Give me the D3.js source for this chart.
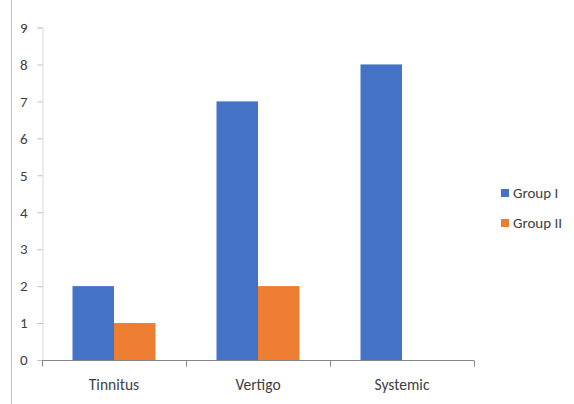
<!DOCTYPE html>
<html>
<head>
<meta charset="utf-8">
<script src="https://cdn.jsdelivr.net/npm/d3@7"></script>
<style>
  html, body { margin: 0; padding: 0; background: #fff; }
  text { font-family: Carlito, Lato, "Open Sans", sans-serif; fill: #404040; }
</style>
</head>
<body>
<svg id="chart" width="574" height="404"></svg>
<script>
// Symptom counts per group
const categories = ["Tinnitus", "Vertigo", "Systemic"];
const groups = ["Group I", "Group II"];
const groupI = [2, 7, 8];
const groupII = [1, 2, 0];
const yTicks = [0, 1, 2, 3, 4, 5, 6, 7, 8, 9];
const colors = ["#4472C4", "#ED7D31"];

const seriesValues = [groupI, groupII];
const rows = categories.map((c, i) => ({
  category: c,
  values: groups.map((g, j) => ({ group: g, value: seriesValues[j][i], color: colors[j] }))
}));

const svg = d3.select("#chart");

// Frame edge on the left
svg.append("line")
  .attr("x1", 11.5).attr("x2", 11.5)
  .attr("y1", 0).attr("y2", 404)
  .attr("stroke", "#bfbfbf").attr("stroke-width", 1);

const plot = { left: 42, right: 474, top: 27.5, bottom: 360 };

const x = d3.scaleBand().domain(categories).range([plot.left, plot.right]).padding(0);
const xInner = d3.scaleBand().domain(groups).range([0, x.bandwidth()])
  .paddingInner(0).paddingOuter(0.735);
const y = d3.scaleLinear().domain([0, 9]).range([plot.bottom, plot.top]);

// Y axis
const yAxis = svg.append("g")
  .attr("transform", `translate(${plot.left + 0.5},0)`)
  .call(d3.axisLeft(y).tickValues(yTicks).tickSize(5).tickPadding(10).tickFormat(d3.format("d")));
yAxis.select(".domain").attr("stroke", "#d9d9d9");
yAxis.selectAll(".tick line").attr("stroke", "#bfbfbf");
yAxis.selectAll(".tick text").attr("font-size", 15).attr("fill", "#404040")
  .attr("font-family", "Carlito, Lato, 'Open Sans', sans-serif");

// Bars
const groupsG = svg.append("g").selectAll("g")
  .data(rows).join("g")
  .attr("transform", d => `translate(${x(d.category)},0)`);
groupsG.selectAll("rect")
  .data(d => d.values.filter(v => v.value > 0))
  .join("rect")
  .attr("x", d => xInner(d.group))
  .attr("y", d => y(d.value))
  .attr("width", xInner.bandwidth())
  .attr("height", d => y(0) - y(d.value))
  .attr("fill", d => d.color);

// X axis
const xAxis = svg.append("g")
  .attr("transform", `translate(0,${plot.bottom + 0.5})`);
xAxis.append("line")
  .attr("x1", plot.left).attr("x2", plot.right)
  .attr("stroke", "#868686");
const boundaries = categories.map(c => x(c)).concat([x(categories[categories.length - 1]) + x.bandwidth()]);
xAxis.selectAll(".cat-tick")
  .data(boundaries).join("line")
  .attr("class", "cat-tick")
  .attr("x1", d => Math.round(d) + 0.5).attr("x2", d => Math.round(d) + 0.5)
  .attr("y1", 0).attr("y2", 6)
  .attr("stroke", "#868686");
xAxis.selectAll(".cat-label")
  .data(categories).join("text")
  .attr("class", "cat-label")
  .attr("x", d => x(d) + x.bandwidth() / 2)
  .attr("y", 29)
  .attr("text-anchor", "middle")
  .attr("font-size", 15.5)
  .text(d => d);

// Legend
const legend = svg.append("g").attr("transform", "translate(501,0)");
const legendItems = legend.selectAll("g")
  .data(groups).join("g")
  .attr("transform", (d, i) => `translate(0,${189 + i * 30})`);
legendItems.append("rect")
  .attr("width", 8).attr("height", 8)
  .attr("fill", (d, i) => colors[i]);
legendItems.append("text")
  .attr("x", 12).attr("y", 9)
  .attr("font-size", 15)
  .text(d => d);
</script>
</body>
</html>
